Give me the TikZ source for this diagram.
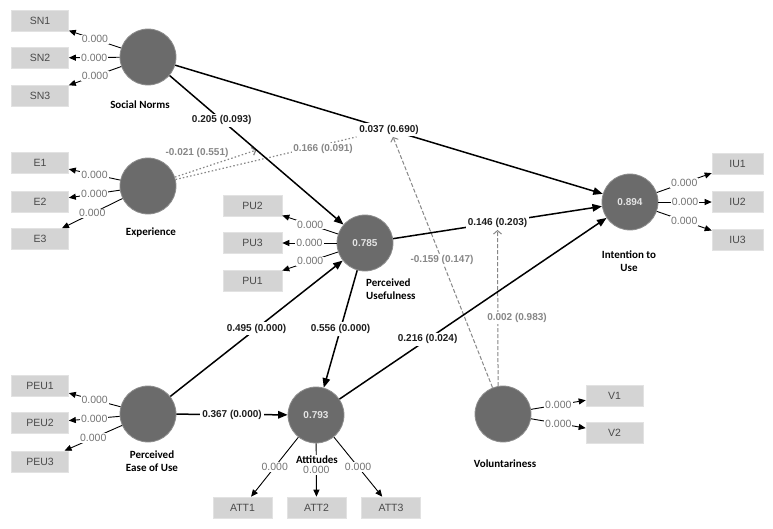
\documentclass[tikz,border=0pt]{standalone}
\usepackage{fontspec}
\setmainfont{Liberation Sans}
\newfontfamily\carlito{Carlito}
\usetikzlibrary{arrows.meta}
\definecolor{lvfill}{HTML}{6B6B6B}
\definecolor{lvedge}{HTML}{8E8E8E}
\definecolor{boxfill}{HTML}{D4D4D4}
\definecolor{boxedge}{HTML}{E2E2E2}
\definecolor{boxtext}{HTML}{4A4A4A}
\definecolor{loadgray}{HTML}{747474}
\definecolor{modgray}{HTML}{878787}
\definecolor{lvtext}{HTML}{E4E4E4}
\definecolor{coefcol}{HTML}{1E1E1E}
\pgfdeclarelayer{back}
\pgfdeclarelayer{background}
\pgfsetlayers{back,background,main}
\begin{document}
\begin{tikzpicture}[x=1pt,y=-1pt,
  lv/.style={circle, fill=lvfill, draw=lvedge, line width=0.8pt, minimum size=56pt, inner sep=0pt,
    font=\bfseries\fontsize{10}{11}\selectfont, text=lvtext},
  ind/.style={rectangle, fill=boxfill, draw=boxedge, line width=0.6pt, minimum width=57pt, minimum height=21pt,
    inner sep=0pt, font=\fontsize{10.5}{11}\selectfont, text=boxtext},
  lvname/.style={font=\carlito\bfseries\fontsize{11}{12.5}\selectfont, align=center, text=black, inner sep=1pt},
  loadline/.style={draw=loadgray, line width=0.9pt, -{Triangle[length=7pt,width=6pt]}, black},
  loadlbl/.style={fill=white, inner sep=1pt, text=loadgray, font=\fontsize{10.5}{11}\selectfont},
  structline/.style={draw=black, line width=1.5pt, -{Triangle[length=9.5pt,width=7.5pt]}},
  coef/.style={fill=white, inner sep=2pt, text=coefcol, font=\bfseries\fontsize{10}{11}\selectfont},
  dotmod/.style={draw=modgray, line width=1.2pt, dash pattern=on 1.5pt off 2.2pt},
  dashmod/.style={draw=modgray, line width=1pt, dash pattern=on 4pt off 2pt},
  modtip/.style={-{Straight Barb[length=3.5pt,width=8pt]}},
  modlbl/.style={inner sep=1.5pt, text=modgray, font=\bfseries\fontsize{10}{11}\selectfont}
]
\begin{pgfonlayer}{back}
\fill[white] (0,0) rectangle (773,528);
\end{pgfonlayer}
\useasboundingbox (0,0) rectangle (773,528);

% latent variables
\node[lv] (SN)  at (148,57)  {};
\node[lv] (EXP) at (148,186) {};
\node[lv] (PU)  at (365,243) {0.785};
\node[lv] (PEU) at (148,414) {};
\node[lv] (ATT) at (316,415) {0.793};
\node[lv] (IU)  at (630,202) {0.894};
\node[lv] (VOL) at (503,414) {};

% indicators
\node[ind] (SN1) at (40,21)   {SN1};
\node[ind] (SN2) at (40,58)   {SN2};
\node[ind] (SN3) at (40,95.5) {SN3};
\node[ind] (E1) at (40,163) {E1};
\node[ind] (E2) at (40,202) {E2};
\node[ind] (E3) at (40,239) {E3};
\node[ind, minimum width=59pt] (PU2) at (252.5,205.5) {PU2};
\node[ind, minimum width=59pt] (PU3) at (252.5,243)   {PU3};
\node[ind, minimum width=59pt] (PU1) at (252.5,280.5) {PU1};
\node[ind] (PEU1) at (40,385.5) {PEU1};
\node[ind] (PEU2) at (40,423)   {PEU2};
\node[ind] (PEU3) at (40,461.5) {PEU3};
\node[ind, minimum width=59pt] (ATT1) at (242.5,507.5) {ATT1};
\node[ind, minimum width=59pt] (ATT2) at (316.5,507.5) {ATT2};
\node[ind, minimum width=59pt] (ATT3) at (391,507.5)   {ATT3};
\node[ind, minimum width=51pt] (IU1) at (737.5,164)   {IU1};
\node[ind, minimum width=51pt] (IU2) at (737.5,202)   {IU2};
\node[ind, minimum width=51pt] (IU3) at (737.5,239.5) {IU3};
\node[ind] (V1) at (614.5,395.5) {V1};
\node[ind] (V2) at (614.5,433)   {V2};

% loadings
\foreach \b in {SN1,SN2,SN3} \draw[loadline] (SN) -- node[loadlbl]{0.000} (\b);
\foreach \b in {E1,E2,E3} \draw[loadline] (EXP) -- node[loadlbl]{0.000} (\b);
\foreach \b in {PU2,PU3,PU1} \draw[loadline] (PU) -- node[loadlbl]{0.000} (\b);
\foreach \b in {PEU1,PEU2,PEU3} \draw[loadline] (PEU) -- node[loadlbl]{0.000} (\b);
\foreach \b in {ATT1,ATT2,ATT3} \draw[loadline] (ATT) -- node[loadlbl]{0.000} (\b);
\foreach \b in {IU1,IU2,IU3} \draw[loadline] (IU) -- node[loadlbl]{0.000} (\b);
\foreach \b in {V1,V2} \draw[loadline] (VOL) -- node[loadlbl]{0.000} (\b);

% structural paths
\draw[structline] (SN) -- node[coef,pos=0.3]{0.205 (0.093)} coordinate[pos=0.5](m1) (PU);
\draw[structline] (SN) -- node[coef,pos=0.5](c1){0.037 (0.690)} (IU);
\draw[structline] (PU) -- node[coef,pos=0.5](c2){0.146 (0.203)} (IU);
\draw[structline] (PEU) -- node[coef,pos=0.5]{0.495 (0.000)} (PU);
\draw[structline] (PEU) -- node[coef,pos=0.5]{0.367 (0.000)} (ATT);
\draw[structline] (PU) -- node[coef,pos=0.5]{0.556 (0.000)} (ATT);
\draw[structline] (ATT) -- node[coef,pos=0.33]{0.216 (0.024)} (IU);

% moderating effects
\begin{pgfonlayer}{background}
\draw[dotmod, modtip] (EXP) -- (m1);
\draw[dotmod] (EXP) -- (c1.south west);
\draw[dashmod, modtip] (VOL) -- ([xshift=4pt]c1.south);
\draw[dashmod, modtip] (VOL.100) -- (c2.south);
\node[modlbl] (l1) at (197,153) {-0.021 (0.551)};
\node[modlbl, fill=white] (l2) at (323,149) {0.166 (0.091)};
\node[modlbl, fill=white] (l3) at (442,260) {-0.159 (0.147)};
\node[modlbl, fill=white] (l4) at (517,318) {0.002 (0.983)};
\end{pgfonlayer}

% latent variable names
\node[lvname] (nSN)  at (140,105) {Social Norms};
\node[lvname] (nEXP) at (151,232) {Experience};
\node[lvname, align=left, anchor=north west] (nPU) at (365,278) {Perceived\\Usefulness};
\node[lvname, anchor=north] (nPEU) at (152,450) {Perceived\\Ease of Use};
\node[lvname, fill=white] (nATT) at (317,460) {Attitudes};
\node[lvname, anchor=north] (nIU) at (629,250) {Intention to\\Use};
\node[lvname] (nVOL) at (505,464) {Voluntariness};
\end{tikzpicture}
\end{document}
